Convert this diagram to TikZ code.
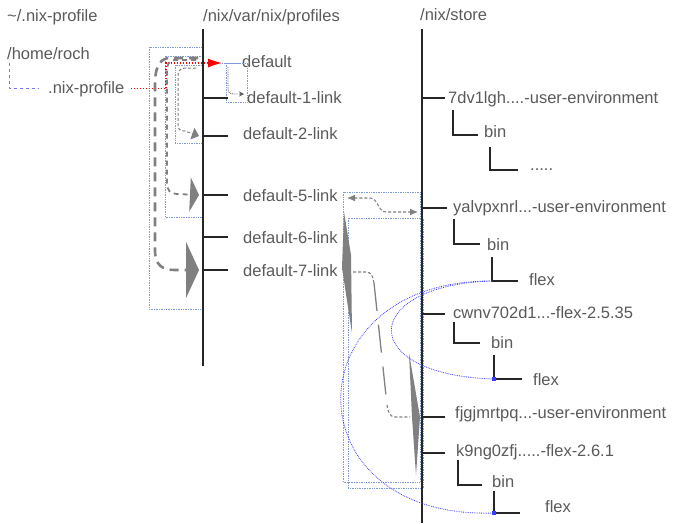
\documentclass[tikz,border=0pt]{standalone}
\usepackage{fontspec}
\setmainfont{Liberation Sans}
\usepackage{tikz}
\usetikzlibrary{arrows.meta}
\usepackage{xcolor}
\definecolor{txtgray}{RGB}{90,90,90}
\definecolor{boxblue}{RGB}{125,155,215}
\definecolor{linkblue}{RGB}{60,60,255}
\definecolor{histgray}{RGB}{128,128,128}

\begin{document}
\begin{tikzpicture}[x=1pt,y=-1pt]

		\useasboundingbox (0,0) rectangle (673,523);
		\tikzset{entry/.style = {anchor=base west,inner sep=0,text=txtgray,text height=12pt,text depth=3.5pt,font=\fontsize{16.5}{19}\selectfont}}
		\tikzset{tree/.style = {draw=black!85,line width=1.2pt}}
		\tikzset{selbox/.style = {draw=boxblue,densely dotted,line width=0.7pt}}
		\tikzset{hist/.style = {draw=histgray,line cap=butt}}
		\tikzset{store/.style = {draw=linkblue,densely dotted,line width=0.8pt}}
		\tikzset{pin/.style = {fill=linkblue,inner sep=1.8pt,rectangle}}
		% headers
		\node[entry] (hdrA) at (7,21) {\textasciitilde/.nix-profile};
		\node[entry] (hdrB) at (203,21) {/nix/var/nix/profiles};
		\node[entry] (hdrC) at (420,20) {/nix/store};
		% home
		\node[entry] (home) at (7,59) {/home/roch};
		\node[entry] (nixp) at (48,93) {.nix-profile};
		% profiles
		\node[entry] (def) at (242,67) {default};
		\node[entry] (d1) at (247,103) {default-1-link};
		\node[entry] (d2) at (243,139) {default-2-link};
		\node[entry] (d5) at (243,201) {default-5-link};
		\node[entry] (d6) at (243,243) {default-6-link};
		\node[entry] (d7) at (243,276) {default-7-link};
		% store
		\node[entry] (u7) at (448,103) {7dv1lgh....-user-environment};
		\node[entry] (b7) at (484,137) {bin};
		\node[entry] (x7) at (530,170) {.....};
		\node[entry] (uy) at (453,212) {yalvpxnrl...-user-environment};
		\node[entry] (by) at (487,250) {bin};
		\node[entry] (fy) at (529,285) {flex};
		\node[entry] (fc) at (453,318) {cwnv702d1...-flex-2.5.35};
		\node[entry] (bc) at (491,348) {bin};
		\node[entry] (fxc) at (533,385) {flex};
		\node[entry] (uf) at (455,418) {fjgjmrtpq...-user-environment};
		\node[entry] (fk) at (456,456) {k9ng0zfj.....-flex-2.6.1};
		\node[entry] (bk) at (492,487) {bin};
		\node[entry] (fxk) at (545,512) {flex};
		% points on the lines
		\coordinate (topB) at (203,29);
		\coordinate (botB) at (203,366);
		\coordinate (topC) at (422,29);
		\coordinate (botC) at (422,523);
		\coordinate (m1) at (203,98);
		\coordinate (m2) at (203,136);
		\coordinate (m5) at (203,195);
		\coordinate (m6) at (203,237);
		\coordinate (m7) at (203,270);
		\coordinate (s7) at (422,98);
		\coordinate (sy) at (422,208);
		\coordinate (sc) at (422,314);
		\coordinate (sf) at (422,417);
		\coordinate (sk) at (422,453);
		\coordinate (c7b) at (453,135);
		\coordinate (c7x) at (490,170);
		\coordinate (cyb) at (454,244);
		\coordinate (cyf) at (492,281);
		\coordinate (ccb) at (454,343);
		\coordinate (ccf) at (494,379);
		\coordinate (ckb) at (458,485);
		\coordinate (ckf) at (494,513);
		\coordinate (chome) at (9,88);
		% selection boxes
		\draw[selbox] (149,47) rectangle (203,309);
		\draw[selbox] (165,56) rectangle (203,217);
		\draw[selbox] (175,65) rectangle (203,143);
		\draw[selbox] (226,63) rectangle (247,102);
		\draw[selbox] (343,192) rectangle (420,482);
		\draw[selbox] (348,218) rectangle (423,488);
		% tree lines
		\draw[tree] (topB) -- (botB);
		\draw[tree] (topC) -- (botC);
		\draw[tree] (m1) -- ([xshift=-19pt]d1.west |- m1);
		\draw[tree] (m2) -- ([xshift=-15pt]d2.west |- m2);
		\draw[tree] (m5) -- ([xshift=-15pt]d5.west |- m5);
		\draw[tree] (m6) -- ([xshift=-15pt]d6.west |- m6);
		\draw[tree] (m7) -- ([xshift=-15pt]d7.west |- m7);
		\draw[tree] (s7) -- ([xshift=-3pt]u7.west |- s7);
		\draw[tree] (sy) -- ([xshift=-6pt]uy.west |- sy);
		\draw[tree] (sc) -- ([xshift=-8pt]fc.west |- sc);
		\draw[tree] (sf) -- ([xshift=-10pt]uf.west |- sf);
		\draw[tree] (sk) -- ([xshift=-11pt]fk.west |- sk);
		\draw[tree] ([yshift=-3pt]c7b |- u7.south) -- (c7b) -- ([xshift=-6pt]b7.west |- c7b);
		\draw[tree] ([yshift=-6pt]c7x |- b7.south) -- (c7x) -- ([xshift=-12pt]x7.west |- c7x);
		\draw[tree] ([yshift=-3pt]cyb |- uy.south) -- (cyb) -- ([xshift=-7pt]by.west |- cyb);
		\draw[tree] ([yshift=-3pt]cyf |- by.south) -- (cyf) -- ([xshift=-11pt]fy.west |- cyf);
		\draw[tree] (ccb |- fc.south) -- (ccb) -- ([xshift=-11pt]bc.west |- ccb);
		\draw[tree] ([yshift=-3pt]ccf |- bc.south) -- (ccf) -- ([xshift=-11pt]fxc.west |- ccf);
		\draw[tree] (ckb |- fk.south) -- (ckb) -- ([xshift=-10pt]bk.west |- ckb);
		\draw[tree] (ckf |- bk.south) -- (ckf) -- ([xshift=-25pt]fxk.west |- ckf);
		\draw[draw=linkblue!70,dash pattern=on 3pt off 3pt,line width=0.8pt] (chome |- home.south) -- (chome) -- ([xshift=-10pt]nixp.west |- chome);
		% profile link
		\coordinate (rc) at (166,63);
		\coordinate (redtip) at (222,63);
		\draw[draw=red,dash pattern=on 1.5pt off 1.5pt,line width=1.1pt,-{Latex[length=14pt,width=9pt]}] ([xshift=6pt]nixp.east) -| (rc) -- (redtip);
		\draw[selbox] (redtip) -- ([xshift=-2pt]def.west |- redtip);
		\coordinate (sa) at (228,67);
		\coordinate (sb) at (244,94);
		\draw[draw=black!65,densely dotted,line width=0.8pt,-{Stealth[length=5pt,width=5pt]}] (sa) -- (228,88) .. controls (228,93) and (230,94) .. (235,94) -- (sb);
		% history arrows
		\coordinate (h1) at (198,58);
		\coordinate (h2) at (196,60);
		\coordinate (h3) at (196,68);
		\draw[hist,line width=2.6pt,dash pattern=on 9pt off 6pt,-{Triangle[length=13pt,width=56pt]}] (h1) -- (168,58) .. controls (158,60) and (155,70) .. (155,85) -- (155,250) .. controls (155,265) and (162,270) .. (175,270) -- ([xshift=-4pt]m7);
		\draw[hist,line width=1.8pt,dash pattern=on 5pt off 4pt,-{Triangle[length=9pt,width=34pt]}] (h2) -- (175,60) .. controls (168,60) and (167,65) .. (167,75) -- (167,183) .. controls (167,190) and (170,194) .. (177,194) -- ([xshift=-4pt]m5);
		\draw[hist,line width=1pt,dash pattern=on 3pt off 2pt,-{Triangle[length=7pt,width=12pt]}] (h3) -- (185,68) .. controls (179,68) and (178,72) .. (178,78) -- (178,125) .. controls (178,129) and (180,131) .. (185,131) -- ([xshift=-4pt]m2);
		% store arrows
		\coordinate (ya) at (347,198);
		\coordinate (yb) at (418,212);
		\draw[hist,line width=1.1pt,dash pattern=on 3pt off 2pt,{Latex[length=8pt,width=7pt]}-{Latex[length=8pt,width=7pt]}] (ya) -- (370,198) .. controls (378,198) and (378,212) .. (386,212) -- (yb);
		\fill[histgray] (344,212) -- (351,255) -- (352,333) -- (342,268) -- cycle;
		\coordinate (ka) at (348,272);
		\coordinate (kb) at (410,417);
		\draw[hist,line width=1.1pt,dash pattern=on 3pt off 2pt] (ka) -- (366,272) .. controls (371,272) and (373,276) .. (374,283);
		\draw[hist,line width=1.3pt,dash pattern=on 28pt off 14pt] (374,283) -- (387,405);
		\draw[hist,line width=1.1pt,dash pattern=on 3pt off 2pt] (387,405) .. controls (388,412) and (390,417) .. (395,417) -- (kb);
		\fill[histgray] (409,353) -- (420,417) -- (416,475) -- (412,417) -- cycle;
		% flex links
		\draw[store] (cyf) .. controls (360,285) and (355,375) .. (ccf);
		\draw[store] (cyf) .. controls (290,280) and (290,520) .. (ckf);
		\node[pin] (pc) at (ccf) {};
		\node[pin] (pk) at (ckf) {};
\end{tikzpicture}
\end{document}
